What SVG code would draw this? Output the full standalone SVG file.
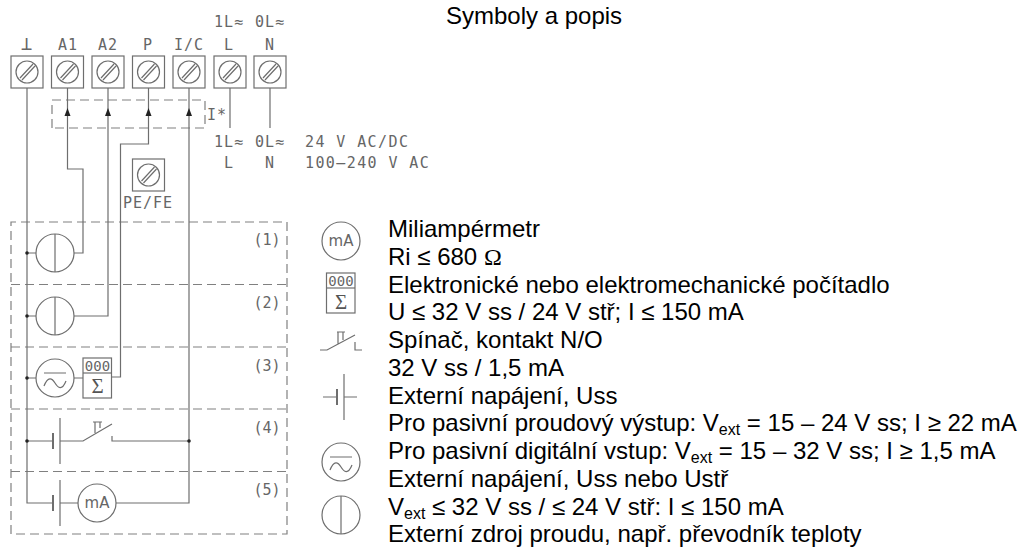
<svg xmlns="http://www.w3.org/2000/svg" width="1020" height="547" viewBox="0 0 1020 547">
<defs>
<style>
.l{fill:none;stroke:#6e6e6e;stroke-width:1.2}
.d{fill:none;stroke:#808080;stroke-width:1.2;stroke-dasharray:9 5}
.k{fill:#222;stroke:none}
.c{font-family:"DejaVu Sans Mono",monospace;font-size:15px;letter-spacing:1px;fill:#666;text-anchor:middle}
.w{font-family:"DejaVu Sans Mono",monospace;font-size:15px;letter-spacing:1.400px;fill:#666}
.n{font-family:"DejaVu Sans Mono",monospace;font-size:15px;fill:#666;text-anchor:middle}
.m{font-family:"DejaVu Sans",sans-serif;font-size:15px;fill:#666;text-anchor:middle}
.g{font-family:"Liberation Serif",serif;font-size:21px;fill:#555;text-anchor:middle}
.t{font-family:"Liberation Sans",Arial,sans-serif;font-size:24px;fill:#000}
.s{font-size:16px}
.o{font-family:"Liberation Serif",serif}
</style>
<g id="term"><rect class="l" x="-16" y="-16" width="32" height="32"/><circle class="l" cx="0" cy="0" r="11"/><path class="l" d="M-7 6L6 -8M-5 8L8 -6"/></g>
<g id="gauge"><circle class="l" r="19"/><path class="l" d="M0 -19V19"/></g>
<g id="ac"><circle class="l" r="19"/><path class="l" d="M-11 -5H11M-11 8C-7 -2 -3 0 0 5S7 13 11 3"/></g>
<g id="sum"><rect class="l" x="0" y="0" width="28.500" height="40"/><path class="l" d="M0 15H28.500"/></g>
<g id="bat"><path class="l" style="stroke-width:2" d="M-7 -8V8"/><path class="l" d="M0 -23V23"/></g>
</defs>
<rect width="1020" height="547" fill="#fff"/>
<g id="connectors">
<path class="d" d="M52 128V100H205V128H52"/>
<path class="d" d="M11 534V222H287V534H11M11 284.500H287M11 347H287M11 409H287M11 471.500H287"/>
<path class="l" d="M27 88V503H53M27 253H36M27 316H36M27 378H36M27 441H53"/>
<path class="l" d="M67.500 88V169H83V253H74M108 88V316H74M148.500 88V144H120.500V377H112M189 88V503H116M230 88V128M270 88V128"/>
<path class="l" d="M74 378H83M60 441H83L112 424M112 436V441H189M60 503H78"/>
<path class="l" d="M93 422H102M95 422V433M100 422V428"/>
<path class="k" d="M67.500 108L70.500 116H64.500ZM108 108L111 116H105ZM148.500 108L151.500 116H145.500ZM189 108L192 116H186Z"/>
<circle class="k" cx="27" cy="253" r="1.800"/><circle class="k" cx="27" cy="316" r="1.800"/><circle class="k" cx="27" cy="378" r="1.800"/><circle class="k" cx="27" cy="441" r="1.800"/><circle class="k" cx="189" cy="441" r="1.800"/>
</g>
<g id="t1"><use href="#term" x="27" y="72"/><text class="c" x="27" y="50" style="font-size:19px">⊥</text></g>
<g id="t2"><use href="#term" x="67.500" y="72"/><text class="c" x="68" y="50">A1</text></g>
<g id="t3"><use href="#term" x="108" y="72"/><text class="c" x="108" y="50">A2</text></g>
<g id="t4"><use href="#term" x="148.500" y="72"/><text class="c" x="148" y="50">P</text></g>
<g id="t5"><use href="#term" x="189" y="72"/><text class="c" x="189" y="50">I/C</text></g>
<g id="t6"><use href="#term" x="230" y="72"/><text class="c" x="229" y="50">L</text><text class="c" x="229" y="27">1L≈</text></g>
<g id="t7"><use href="#term" x="270" y="72"/><text class="c" x="270" y="50">N</text><text class="c" x="270" y="27">0L≈</text></g>
<g id="t8"><use href="#term" x="148.500" y="175"/><text class="c" x="148" y="208">PE/FE</text></g>
<g id="labels">
<text class="c" x="217" y="120">I*</text>
<text class="c" x="229" y="147">1L≈</text><text class="c" x="270" y="147">0L≈</text>
<text class="c" x="229" y="168">L</text><text class="c" x="270" y="168">N</text>
<text class="w" x="305" y="147">24 V AC/DC</text>
<text class="w" x="305" y="168">100–240 V AC</text>
<text class="n" x="267" y="245">(1)</text><text class="n" x="267" y="308">(2)</text><text class="n" x="267" y="371">(3)</text><text class="n" x="267" y="433">(4)</text><text class="n" x="267" y="495">(5)</text>
</g>
<g id="r1"><use href="#gauge" x="55" y="253"/></g>
<g id="r2"><use href="#gauge" x="55" y="316"/></g>
<g id="r3"><use href="#ac" x="55" y="378"/><use href="#sum" x="83" y="358"/><text class="n" x="97.500" y="371" style="font-size:14px">000</text><text class="g" x="97.500" y="393">Σ</text></g>
<g id="r4"><use href="#bat" x="60" y="441"/></g>
<g id="r5"><use href="#bat" x="60" y="503"/><circle class="l" cx="97" cy="503" r="19"/><text class="m" x="97" y="508">mA</text></g>
<g id="legend">
<circle class="l" cx="341" cy="241" r="19"/><text class="m" x="341" y="246">mA</text>
<use href="#sum" x="326.500" y="273"/><text class="n" x="341" y="286" style="font-size:14px">000</text><text class="g" x="341" y="309">Σ</text>
<path class="l" d="M320 350H327L355 335M355 342V350H362M337 332H345M338 332V344M343 332V340"/>
<g transform="translate(344 397)"><use href="#bat"/><path class="l" d="M-21 0H-7M0 0H13"/></g>
<use href="#ac" x="341" y="462"/>
<use href="#gauge" x="341" y="515"/>
</g>
<g id="texts">
<text class="t" x="446" y="24">Symboly a popis</text>
<text class="t" x="388" y="237">Miliampérmetr</text>
<text class="t" x="388" y="265">Ri ≤ 680 <tspan class="o">Ω</tspan></text>
<text class="t" x="388" y="293">Elektronické nebo elektromechanické počítadlo</text>
<text class="t" x="388" y="320">U ≤ 32 V ss / 24 V stř; I ≤ 150 mA</text>
<text class="t" x="388" y="348">Spínač, kontakt N/O</text>
<text class="t" x="388" y="376">32 V ss / 1,5 mA</text>
<text class="t" x="388" y="404">Externí napájení, Uss</text>
<text class="t" x="388" y="431">Pro pasivní proudový výstup: V<tspan class="s" dy="4">ext</tspan><tspan dy="-4"> = 15 – 24 V ss; I ≥ 22 mA</tspan></text>
<text class="t" x="388" y="459">Pro pasivní digitální vstup: V<tspan class="s" dy="4">ext</tspan><tspan dy="-4"> = 15 – 32 V ss; I ≥ 1,5 mA</tspan></text>
<text class="t" x="388" y="487">Externí napájení, Uss nebo Ustř</text>
<text class="t" x="388" y="515">V<tspan class="s" dy="4">ext</tspan><tspan dy="-4"> ≤ 32 V ss / ≤ 24 V stř: I ≤ 150 mA</tspan></text>
<text class="t" x="388" y="542">Externí zdroj proudu, např. převodník teploty</text>
</g>
</svg>
